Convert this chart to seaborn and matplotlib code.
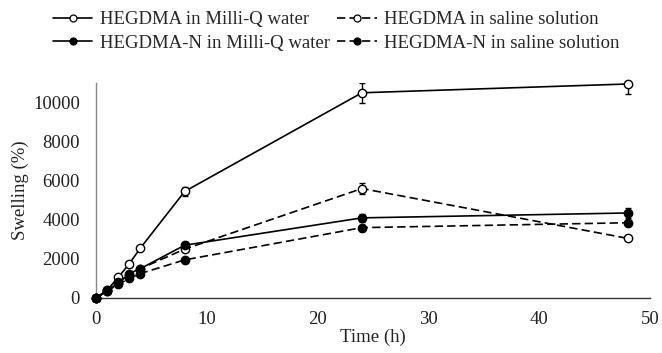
import matplotlib
matplotlib.use("Agg")
import matplotlib.pyplot as plt
import seaborn as sns
import pandas as pd
import numpy as np
from matplotlib.lines import Line2D

time_h = [0, 1, 2, 3, 4, 8, 24, 48]
hegdma_water = [0, 400, 1050, 1750, 2550, 5450, 10500, 10950]
hegdma_water_err = [0, 50, 80, 100, 100, 250, 500, 500]
hegdma_saline = [0, 350, 800, 1200, 1500, 2500, 5600, 3050]
hegdma_saline_err = [0, 30, 50, 60, 80, 120, 280, 80]
hegdman_water = [0, 400, 750, 1250, 1500, 2700, 4100, 4350]
hegdman_water_err = [0, 30, 50, 80, 100, 150, 220, 250]
hegdman_saline = [0, 350, 700, 1000, 1250, 1950, 3600, 3850]
hegdman_saline_err = [0, 30, 50, 60, 80, 100, 150, 150]

labels = ["HEGDMA in Milli-Q water", "HEGDMA in saline solution",
          "HEGDMA-N in Milli-Q water", "HEGDMA-N in saline solution"]

sns.set_theme(style="white")
plt.rcParams['font.family'] = ['Liberation Serif', 'DejaVu Serif']

FS = 13.5
fig = plt.figure(figsize=(6.62, 3.53), dpi=100)
ax = fig.add_axes([96/662, 1-298/353, (650-96)/662, (298-83)/353])

dash = (0, (5, 2.5))
series = [
    (hegdma_water, hegdma_water_err, "white", "-"),
    (hegdma_saline, hegdma_saline_err, "white", dash),
    (hegdman_water, hegdman_water_err, "black", "-"),
    (hegdman_saline, hegdman_saline_err, "black", dash),
]

handles = {}
for (vals, errs, fc, ls), lab in zip(series, labels):
    df = pd.DataFrame({"t": time_h, "v": vals})
    ax.errorbar(time_h, vals, yerr=errs, fmt="none", ecolor="black",
                elinewidth=1.0, capsize=2.5, capthick=1.0, zorder=2)
    sns.lineplot(data=df, x="t", y="v", ax=ax, color="black", linewidth=1.2,
                 linestyle=ls, marker="o", markersize=6,
                 markerfacecolor=fc, markeredgecolor="black",
                 markeredgewidth=1.0, zorder=3, clip_on=False)
    handles[lab] = Line2D([], [], color="black", linewidth=1.2, linestyle=ls,
                          marker="o", markersize=5, markerfacecolor=fc,
                          markeredgecolor="black", markeredgewidth=0.9)

ax.set_xlim(0, 50)
ax.set_ylim(0, 11000)
ax.set_xticks([0, 10, 20, 30, 40, 50])
ax.set_yticks([0, 2000, 4000, 6000, 8000, 10000])
ax.tick_params(axis="both", length=0, labelsize=FS, colors="#222222")
ax.tick_params(axis="x", pad=9)
ax.tick_params(axis="y", pad=11.5)
ax.set_xlabel("Time (h)", fontsize=FS, color="#222222", labelpad=1)
ax.set_ylabel("Swelling (%)", fontsize=FS, color="#222222", labelpad=3)
for s in ["top", "right"]:
    ax.spines[s].set_visible(False)
ax.spines["left"].set_color("#888888")
ax.spines["bottom"].set_color("#333333")
ax.spines["left"].set_linewidth(1.0)
ax.spines["bottom"].set_linewidth(1.0)
ax.grid(False)
ax.set_facecolor("white")

order = [labels[0], labels[2], labels[1], labels[3]]
fig.legend([handles[l] for l in order], order, ncol=2, loc="upper left",
           bbox_to_anchor=(53/662, 1-11/353), frameon=False, fontsize=FS,
           handlelength=2.1, handletextpad=0.4, columnspacing=0.4,
           labelspacing=0.35, borderpad=0, borderaxespad=0)

fig.savefig("out.png", dpi=100, facecolor="white")
